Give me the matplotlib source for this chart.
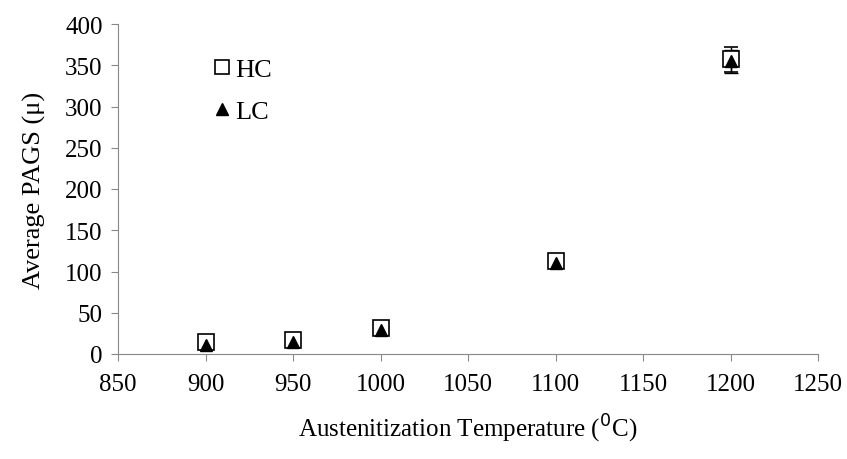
import matplotlib.pyplot as plt
from matplotlib.lines import Line2D

temps = [900, 950, 1000, 1100, 1200]
hc = [14, 17, 31, 113, 357]
lc = [11, 14, 29, 110, 355]
hc_err = [3, 3, 3, 4, 15]
lc_err = [3, 3, 3, 4, 14]

plt.rcParams['font.family'] = ['Liberation Serif', 'DejaVu Serif']

fig = plt.figure(figsize=(8.47, 4.6), dpi=100)
ax = fig.add_axes([118 / 847, 1 - 355 / 460, 700 / 847, 330 / 460])

ax.errorbar(temps, hc, yerr=hc_err, fmt='s', ms=12, mfc='white', mec='black',
            mew=1.2, ecolor='black', elinewidth=1, capsize=5)
ax.errorbar(temps, lc, yerr=lc_err, fmt='^', ms=9, mfc='black', mec='black',
            ecolor='black', elinewidth=1, capsize=5)

ax.set_xlim(850, 1250)
ax.set_ylim(0, 400)
ax.set_xticks(range(850, 1251, 50))
ax.set_yticks(range(0, 401, 50))
ax.tick_params(labelsize=18, colors='black', length=5, color='#888888')
ax.tick_params(axis='x', pad=9)
ax.tick_params(axis='y', pad=6)
for s in ['top', 'right']:
    ax.spines[s].set_visible(False)
for s in ['left', 'bottom']:
    ax.spines[s].set_color('#888888')

ax.set_xlabel('Austenitization Temperature ($^0$C)', fontsize=18, labelpad=12)
ax.set_ylabel('Average PAGS (\u03bc)', fontsize=19, labelpad=14)

handles = [Line2D([], [], ls='none', marker='s', ms=10, mfc='white', mec='black', mew=1.2),
           Line2D([], [], ls='none', marker='^', ms=8, mfc='black', mec='black')]
ax.legend(handles, ['HC', 'LC'], loc='upper left', bbox_to_anchor=(0.105, 0.97),
          frameon=False, fontsize=19, handlelength=0.5, handletextpad=0.25,
          labelspacing=0.7)

fig.savefig('out.png', dpi=100)
